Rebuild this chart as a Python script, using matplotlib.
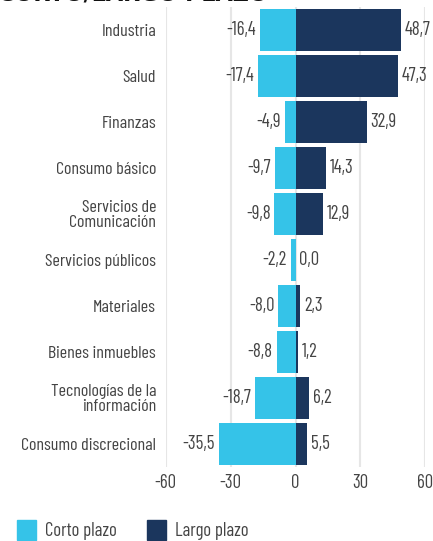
import numpy as np
import matplotlib.pyplot as plt
from matplotlib.patches import Patch

sectores = ["Industria", "Salud", "Finanzas", "Consumo básico",
            "Servicios de\nComunicación", "Servicios públicos", "Materiales",
            "Bienes inmuebles", "Tecnologías de la\ninformación", "Consumo discrecional"]
corto = [-16.4, -17.4, -4.9, -9.7, -9.8, -2.2, -8.0, -8.8, -18.7, -35.5]
largo = [48.7, 47.3, 32.9, 14.3, 12.9, 0.0, 2.3, 1.2, 6.2, 5.5]
ticks_x = [-60, -30, 0, 30, 60]

c_corto = "#35c3e8"
c_largo = "#1b365d"
gris = "#444444"

plt.rcParams['font.family'] = ['Barlow Condensed', 'DejaVu Sans']

fig = plt.figure(figsize=(4.33, 5.41), dpi=100)
ax = fig.add_axes([0.383, 0.137, 0.599, 0.85])

y = np.arange(len(sectores))
ax.barh(y, corto, height=0.9, color=c_corto, zorder=3)
ax.barh(y, largo, height=0.9, color=c_largo, zorder=3)

def fmt(v):
    return ("%.1f" % v).replace(".", ",")

for i in range(len(sectores)):
    ax.text(corto[i] - 1.7, y[i], fmt(corto[i]), ha="right", va="center",
            fontsize=13.5, color=gris)
    ax.text(largo[i] + 1.7, y[i], fmt(largo[i]), ha="left", va="center",
            fontsize=13.5, color=gris)

ax.set_xlim(-60, 60)
ax.set_ylim(len(sectores) - 0.5, -0.5)
ax.set_xticks(ticks_x)
ax.set_xticklabels([str(t) for t in ticks_x], fontsize=13.5, color=gris)
ax.set_yticks(y)
ax.set_yticklabels(sectores, fontsize=13, color=gris, linespacing=1.0)
ax.tick_params(length=0, pad=5)
ax.tick_params(axis="y", pad=7)
ax.xaxis.grid(True, color="#e6e6e6", linewidth=1.5, zorder=0)
for s in ax.spines.values():
    s.set_visible(False)

fig.text(-0.005, 1.01, "CORTO/LARGO PLAZO", fontsize=16, fontweight="bold",
         family="DejaVu Sans", color="#111111", va="center", ha="left")

handles = [Patch(color=c_corto, label="Corto plazo"),
           Patch(color=c_largo, label="Largo plazo")]
leg = fig.legend(handles=handles, loc="lower left", bbox_to_anchor=(0.0, -0.03),
                 ncol=2, frameon=False, fontsize=13.5, handlelength=1.0,
                 handleheight=1.2, handletextpad=0.5, columnspacing=1.6)
for t in leg.get_texts():
    t.set_color(gris)

fig.savefig("out.png", dpi=100)
